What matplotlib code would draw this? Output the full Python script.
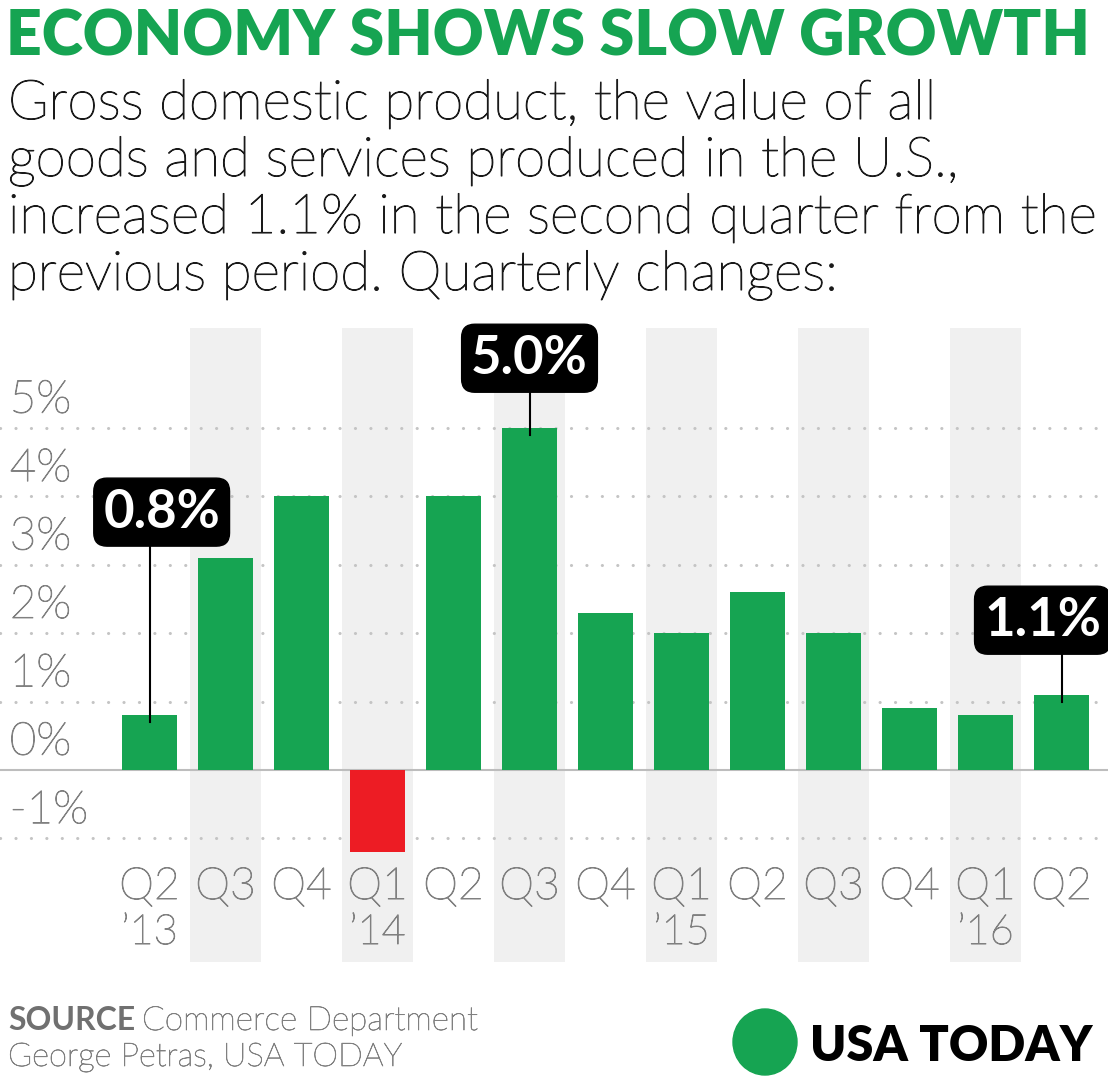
import matplotlib.pyplot as plt
import matplotlib.patches as mpatches
import matplotlib.patheffects as pe
import numpy as np

# -------------------------
# Data
# -------------------------
quarters = ["Q2", "Q3", "Q4", "Q1", "Q2", "Q3", "Q4", "Q1", "Q2", "Q3", "Q4", "Q1", "Q2"]
years = ["\u201913", "", "", "\u201914", "", "", "", "\u201915", "", "", "", "\u201916", ""]
gdp_change = [0.8, 3.1, 4.0, -1.2, 4.0, 5.0, 2.3, 2.0, 2.6, 2.0, 0.9, 0.8, 1.1]
y_ticks = [-1, 0, 1, 2, 3, 4, 5]
callout_idx = [0, 5, 12]

title = "ECONOMY SHOWS SLOW GROWTH"
subtitle = [
    "Gross domestic product, the value of all",
    "goods and services produced in the U.S.,",
    "increased 1.1% in the second quarter from the",
    "previous period. Quarterly changes:",
]

GREEN = "#16a452"
RED = "#ed1c24"
BAND = "#f0f0f0"
GRAY = "#808080"

W, H = 1108, 1077


def fx(x):
    return x / W


def fy(y):
    return 1 - y / H


def light(color, lw=0.7):
    # Lato Light slightly thickened to get the reference's weight
    return dict(family="Lato", weight="light", color=color,
                path_effects=[pe.withStroke(linewidth=lw, foreground=color)])


fig = plt.figure(figsize=(W / 100, H / 100), dpi=100)
fig.patch.set_facecolor("white")

# axes covers full width; bars at px 149.5 + 76*i, zero line at px 770, 68.4 px per 1%
ax = fig.add_axes([0, fy(962), 1, (962 - 328) / H])
x = np.arange(len(gdp_change))
ax.set_xlim(-149.5 / 76, (W - 149.5) / 76)
ax.set_ylim((770 - 962) / 68.4, (770 - 328) / 68.4)
ax.axis("off")

# alternating bands
for i in x:
    if i % 2 == 1:
        ax.axvspan(i - 0.47, i + 0.47, color=BAND, zorder=0, lw=0)

# dotted grid
for t in y_ticks:
    if t == 0:
        ax.axhline(0, color="#bdbdbd", lw=1.5, zorder=1)
    else:
        ax.axhline(t, color="#c4c4c4", lw=2.2, linestyle=(0, (0.05, 5)),
                   dash_capstyle="round", zorder=1)
    ax.annotate(f"{t}%", xy=(0, t), xycoords=("axes fraction", "data"),
                xytext=(7, 11), textcoords="offset points",
                ha="left", va="baseline", fontsize=33, **light(GRAY))

colors = [GREEN if v >= 0 else RED for v in gdp_change]
ax.bar(x, gdp_change, width=0.72, color=colors, zorder=2)

# x labels
for i, (q, yr) in enumerate(zip(quarters, years)):
    ax.text(i, (770 - 868) / 68.4, q, ha="center", va="top", fontsize=32,
            **light(GRAY))
    if yr:
        ax.text(i, (770 - 914) / 68.4, yr, ha="center", va="top", fontsize=30,
                **light(GRAY))

# callouts
box_offsets = {0: (0.16, 3.77), 5: (0.0, 6.02), 12: (-0.25, 2.19)}
for i in callout_idx:
    dx, by = box_offsets[i]
    v = gdp_change[i]
    ax.plot([i, i], [v - 0.1, by - 0.3], color="black", lw=1.5, zorder=3)
    ax.text(i + dx, by, f"{v:.1f}%", ha="center", va="center", fontsize=38,
            color="white", family="Lato", weight="bold", zorder=4,
            bbox=dict(boxstyle="round,pad=0.18,rounding_size=0.25",
                      fc="black", ec="black"),
            clip_on=False)

# header
fig.text(fx(6), fy(55), title, ha="left", va="baseline", fontsize=45,
         color=GREEN, family="Lato", weight="heavy")
for k, line in enumerate(subtitle):
    fig.text(fx(8), fy(119 + 57 * k), line, ha="left", va="baseline",
             fontsize=39.5, **light("#1a1a1a", 0.8))

# footer
fig.text(fx(8), fy(1030), "SOURCE", ha="left", va="baseline", fontsize=23,
         color="#707070", family="Lato", weight="bold")
fig.text(fx(142), fy(1030), "Commerce Department", ha="left", va="baseline",
         fontsize=24, **light(GRAY, 0.5))
fig.text(fx(8), fy(1066), "George Petras, USA TODAY", ha="left", va="baseline",
         fontsize=23.5, **light(GRAY, 0.5))

fig.patches.append(mpatches.Ellipse((fx(765), fy(1042)), 64 / W, 66 / H,
                                    transform=fig.transFigure, color=GREEN))
fig.text(fx(810), fy(1061), "USA TODAY", ha="left", va="baseline", fontsize=35,
         color="black", family="Lato", weight="heavy")

fig.savefig("out.png", dpi=100)
